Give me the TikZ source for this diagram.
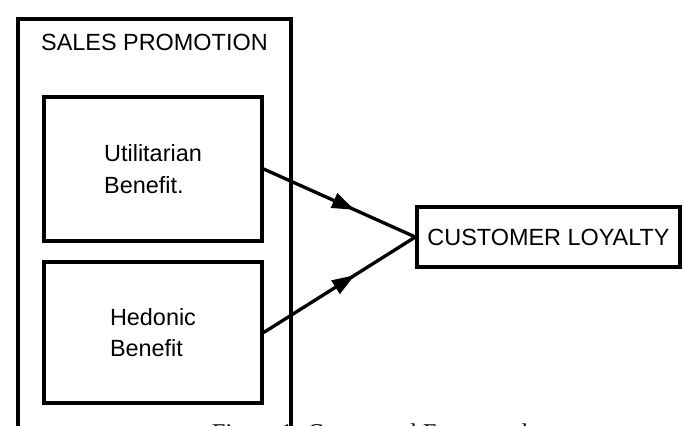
\documentclass[tikz,border=0pt]{standalone}
\usepackage{fontspec}
\setmainfont{Liberation Serif}
\setsansfont{Liberation Sans}
\usetikzlibrary{decorations.markings,arrows.meta}
\tikzstyle{box}=[rectangle, draw=black, line width=0.1cm, inner sep=0pt, anchor=center, align=left, font=\sffamily\fontsize{20}{27}\selectfont]
\tikzstyle{annot}=[align=left, font=\sffamily\fontsize{20}{27}\selectfont]
\tikzstyle{flow}=[line width=0.1cm, postaction={decorate}, decoration={markings, mark=at position 0.6 with {\arrow{Triangle[length=0.68cm,width=0.46cm]}}}]

\begin{document}
\begin{tikzpicture}[x=0.03cm, y=-0.03cm]
	\useasboundingbox (0,0) rectangle (684,425);
	\clip (0,0) rectangle (684,425);

	% outer frame, runs off the bottom edge
	\draw[line width=0.1cm] (18,445) -- (18,19) -- (291,19) -- (291,445);
	\node[annot, anchor=base west] (promo) at (37,51) {SALES PROMOTION};

	\node[box, minimum width=6.54cm, minimum height=4.32cm] (util) at (153,169) {Utilitarian\\Benefit.};
	\node[box, minimum width=6.54cm, minimum height=4.23cm] (hedon) at (153,332.5) {Hedonic\\Benefit};
	\node[box, minimum width=7.89cm, minimum height=1.8cm] (loyal) at (548.5,237) {CUSTOMER LOYALTY};

	\draw[flow] (util.east) -- (loyal.west);
	\draw[flow] (hedon.east) -- (loyal.west);

	% caption, cut off by the page edge
	\node[anchor=base west, inner sep=0pt, font=\fontsize{20.5}{24}\selectfont] (caption) at (212,440) {Figure 1: Conceptual Framework};
\end{tikzpicture}
\end{document}
